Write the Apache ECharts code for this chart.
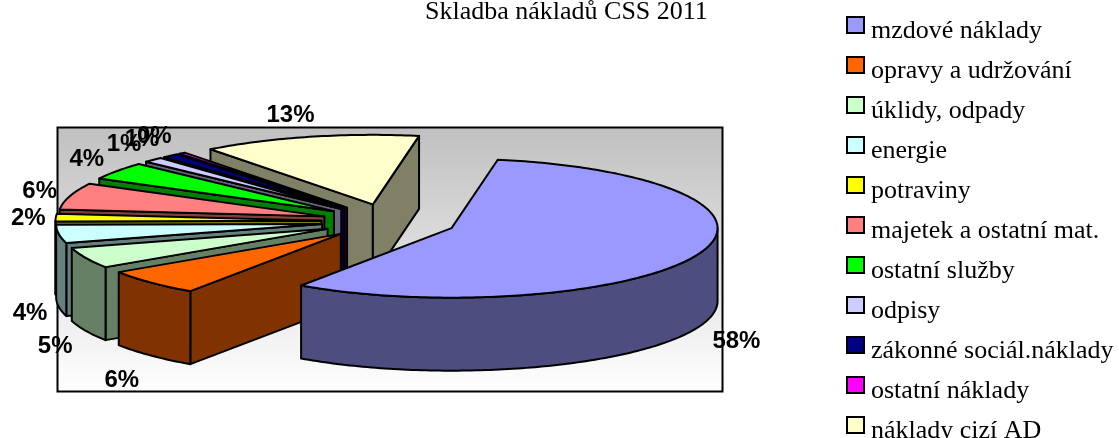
<!DOCTYPE html>
<html>
<head>
<meta charset="utf-8">
<title>Skladba nákladů CSS 2011</title>
<script src="https://cdn.jsdelivr.net/npm/echarts@6/dist/echarts.min.js"></script>
<style>
    html, body { margin: 0; padding: 0; background: #fff; }
    #chart { width: 1119px; height: 438px; }
</style>
</head>
<body>
<div id="chart"></div>
<script>
var titleText = 'Skladba nákladů CSS 2011';
var categories = ['mzdové náklady', 'opravy a udržování', 'úklidy, odpady', 'energie', 'potraviny',
    'majetek a ostatní mat.', 'ostatní služby', 'odpisy', 'zákonné sociál.náklady', 'ostatní náklady', 'náklady cizí AD'];
var values = [57.6, 6.1, 4.8, 4.2, 1.7, 6.1, 4.0, 1.2, 1.0, 0.4, 12.9];
var topColors = ['#9999FF', '#FF6600', '#CCFFCC', '#CCFFFF', '#FFFF00', '#FF8080', '#00FF00', '#CCCCFF', '#000080', '#FF00FF', '#FFFFCC'];
var wallColors = ['#4D4D80', '#803300', '#668066', '#668080', '#808000', '#804040', '#008000', '#666680', '#000040', '#800080', '#808066'];

// projected pie layout
var cx = 389, cy = 221.5, rx = 266, ry = 69.5, depth = 73;
var explode = 0.254, startAngle = 10;

var total = 0;
for (var n = 0; n < values.length; n++) {
    total += values[n];
}

// the 3d view squeezes the angles a bit towards the front of the pie
function viewAngle(t) {
    return t + startAngle - 3 * Math.sin(t / 2 * Math.PI / 180);
}

var slices = [];
var acc = 0;
for (var i = 0; i < values.length; i++) {
    var span = values[i] / total * 360;
    var a1 = viewAngle(acc), a2 = viewAngle(acc + span);
    slices.push({ a1: a1, a2: a2, mid: (a1 + a2) / 2 });
    acc += span;
}

// back slices first, the one holding the front of the pie last
var order = slices.map(function (s, idx) {
    var key = (s.a1 <= 180 && s.a2 >= 180) ? 0 : Math.min(Math.abs(s.a1 - 180), Math.abs(s.a2 - 180));
    return { idx: idx, key: key };
}).sort(function (a, b) { return b.key - a.key; });
var rank = [];
order.forEach(function (o, r) { rank[o.idx] = r; });

function sinD(a) { return Math.sin(a * Math.PI / 180); }
function cosD(a) { return Math.cos(a * Math.PI / 180); }

function arcPoints(ax, ay, a1, a2, dy) {
    var pts = [];
    var steps = Math.max(2, Math.ceil(a2 - a1));
    for (var k = 0; k <= steps; k++) {
        var a = a1 + (a2 - a1) * k / steps;
        pts.push([ax + rx * sinD(a), ay - ry * cosD(a) + dy]);
    }
    return pts;
}

function face(points, fill, z) {
    return {
        type: 'polygon',
        z2: z,
        shape: { points: points },
        style: { fill: fill, stroke: '#000', lineWidth: 2, lineJoin: 'round' }
    };
}

function renderSlice(idx) {
    return function (params, api) {
        var value = api.value(0);
        var s = slices[idx];
        var z = rank[idx] * 10 + 1;
        var ax = cx + explode * rx * sinD(s.mid);
        var ay = cy - explode * ry * cosD(s.mid);
        var kids = [];

        if (sinD(s.a1) < 0) {
            var p1 = arcPoints(ax, ay, s.a1, s.a1, 0)[0];
            kids.push(face([[ax, ay], p1, [p1[0], p1[1] + depth], [ax, ay + depth]], wallColors[idx], z));
        }
        if (sinD(s.a2) > 0) {
            var p2 = arcPoints(ax, ay, s.a2, s.a2, 0)[0];
            kids.push(face([[ax, ay], p2, [p2[0], p2[1] + depth], [ax, ay + depth]], wallColors[idx], z + 1));
        }
        var from = Math.max(s.a1, 90), to = Math.min(s.a2, 270);
        if (to > from) {
            var upper = arcPoints(ax, ay, from, to, 0);
            var lower = arcPoints(ax, ay, from, to, depth).reverse();
            kids.push(face(upper.concat(lower), wallColors[idx], z + 2));
        }
        kids.push(face([[ax, ay]].concat(arcPoints(ax, ay, s.a1, s.a2, 0)), topColors[idx], z + 3));

        // labels sit on a wider ring, below the wall for the front half
        var c = cosD(s.mid), side = sinD(s.mid) > 0 ? 1 : -1;
        var lx = cx + 4 + 1.37 * rx * sinD(s.mid) + side * 16 * Math.abs(c);
        var ly = (c < 0 ? cy + depth - 1.72 * ry * c : cy - 1.6 * ry * c) + 2;
        kids.push({
            type: 'text',
            z2: 1000 + idx,
            style: {
                text: Math.round(value) + '%',
                x: lx,
                y: ly,
                align: 'center',
                verticalAlign: 'middle',
                font: 'bold 24px "Liberation Sans", Arial, sans-serif',
                fill: '#000'
            }
        });
        return { type: 'group', children: kids };
    };
}

var series = categories.map(function (name, idx) {
    return {
        name: name,
        type: 'custom',
        coordinateSystem: 'none',
        silent: true,
        animation: false,
        itemStyle: { color: topColors[idx] },
        renderItem: renderSlice(idx),
        data: [[values[idx]]]
    };
});

var chart = echarts.init(document.getElementById('chart'));
chart.setOption({
    animation: false,
    backgroundColor: '#fff',
    title: {
        text: titleText,
        left: 425,
        top: -1,
        padding: 0,
        textStyle: { color: '#000', fontWeight: 'normal', fontSize: 26, fontFamily: '"Liberation Serif", "Times New Roman", serif' }
    },
    legend: {
        data: categories,
        orient: 'vertical',
        left: 846,
        top: 16,
        height: 480, // otherwise the last row wraps into a second column
        padding: 0,
        itemWidth: 17,
        itemHeight: 16,
        itemGap: 12,
        icon: 'rect',
        selectedMode: false,
        itemStyle: { borderColor: '#000', borderWidth: 2 },
        formatter: '{t|{name}}',
        textStyle: {
            rich: {
                t: { color: '#000', fontSize: 26, padding: [12, 0, 0, 2], fontFamily: '"Liberation Serif", "Times New Roman", serif' }
            }
        }
    },
    graphic: [{
        type: 'rect',
        z: 0,
        shape: { x: 57.5, y: 127.5, width: 665, height: 264 },
        style: {
            fill: new echarts.graphic.LinearGradient(0, 0, 0, 1, [
                { offset: 0, color: '#C0C0C0' },
                { offset: 1, color: '#FFFFFF' }
            ]),
            stroke: '#000',
            lineWidth: 2
        }
    }],
    series: series
});
</script>
</body>
</html>
